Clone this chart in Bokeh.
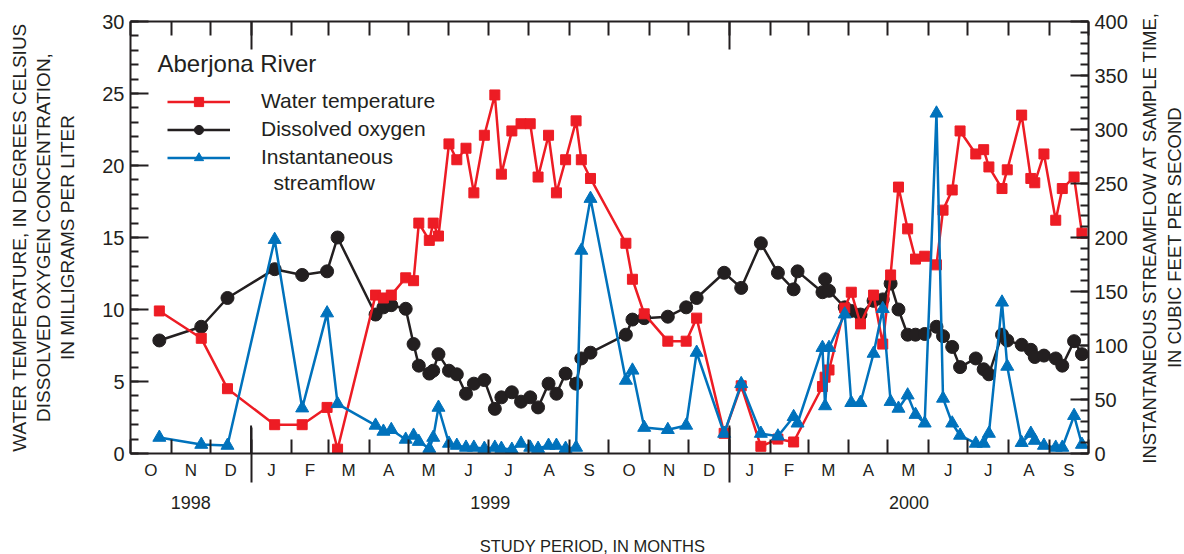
import math
import pandas as pd
from bokeh.plotting import figure
from bokeh.layouts import row, column
from bokeh.models import (Range1d, LinearAxis, FixedTicker, SingleIntervalTicker,
                          Label, Legend, LegendItem)
from bokeh.embed import file_html
from bokeh.resources import INLINE

# ---------------- data ----------------
sample_dates = [
    "1998-10-23", "1998-11-24", "1998-12-14", "1999-01-19", "1999-02-09", "1999-02-28",
    "1999-03-08", "1999-04-06", "1999-04-12", "1999-04-18", "1999-04-29", "1999-05-05",
    "1999-05-09", "1999-05-17", "1999-05-20", "1999-05-24", "1999-06-01", "1999-06-07",
    "1999-06-14", "1999-06-20", "1999-06-28", "1999-07-06", "1999-07-11", "1999-07-19",
    "1999-07-26", "1999-08-02", "1999-08-08", "1999-08-16", "1999-08-22", "1999-08-29",
    "1999-09-06", "1999-09-10", "1999-09-17", "1999-10-14", "1999-10-19", "1999-10-28",
    "1999-11-15", "1999-11-29", "1999-12-07", "1999-12-28", "2000-01-10", "2000-01-25",
    "2000-02-07", "2000-02-19", "2000-02-22", "2000-03-12", "2000-03-14", "2000-03-17",
    "2000-03-29", "2000-04-03", "2000-04-10", "2000-04-20", "2000-04-27", "2000-05-03",
    "2000-05-09", "2000-05-16", "2000-05-22", "2000-05-29", "2000-06-07", "2000-06-12",
    "2000-06-19", "2000-06-25", "2000-07-07", "2000-07-13", "2000-07-17", "2000-07-27",
    "2000-07-31", "2000-08-11", "2000-08-18", "2000-08-21", "2000-08-28", "2000-09-06",
    "2000-09-11", "2000-09-20", "2000-09-26",
]
water_temperature = [
    9.9, 8.0, 4.5, 2.0, 2.0, 3.2,
    0.3, 11.0, 10.8, 11.0, 12.2, 12.0,
    16.0, 14.8, 16.0, 15.1, 21.5, 20.4,
    21.2, 18.1, 22.1, 24.9, 19.4, 22.4,
    22.9, 22.9, 19.2, 22.1, 18.1, 20.4,
    23.1, 20.4, 19.1, 14.6, 12.1, 9.7,
    7.8, 7.8, 9.4, 1.4, 4.7, 0.5,
    1.0, 0.8, None, 4.65, 5.3, 5.8,
    10.1, 11.2, 9.0, 11.0, 7.6, 12.4,
    18.5, 15.6, 13.5, 13.7, 13.1, 16.9,
    18.3, 22.4, 20.8, 21.1, 19.9, 18.4,
    19.7, 23.5, 19.1, 18.8, 20.8, 16.2,
    18.4, 19.2, 15.3,
]
dissolved_oxygen = [
    7.85, 8.8, 10.8, 12.8, 12.4, 12.65,
    15.0, 9.65, 10.15, 10.3, 10.05, 7.6,
    6.1, 5.55, 5.75, 6.9, 5.75, 5.5,
    4.15, 4.85, 5.1, 3.1, 3.9, 4.25,
    3.6, 3.9, 3.2, 4.85, 4.15, 5.55,
    4.85, 6.6, 7.0, 8.25, 9.3, 9.4,
    9.5, 10.15, 10.8, 12.55, 11.5, 14.6,
    12.55, 11.4, 12.65, 11.2, 12.1, 11.3,
    10.15, 9.9, 9.65, 10.6, 10.7, 11.8,
    10.0, 8.25, 8.25, 8.3, 8.8, 8.15,
    7.4, 6.0, 6.6, 5.85, 5.5, 8.25,
    7.85, 7.55, 7.2, 6.7, 6.8, 6.6,
    6.1, 7.8, 6.9,
]
streamflow = [
    14.8, 8.3, 7.4, 198, 42, 130,
    46, 26, 20.4, 22, 13, 16.7,
    11, 4.6, 14.8, 42.6, 9.3, 7.4,
    5.6, 5.6, 4.6, 5.6, 4.6, 3.7,
    9.3, 5.6, 4.6, 7.4, 7.4, 4.6,
    5.6, 188, 236, 67.6, 77, 24,
    22, 26, 93.5, 18.5, 64.5, 18.5,
    16, 34, 28, 98, 44, 98,
    129, 47, 47, 92.6, 134, 48,
    41.7, 54, 36, 28, 315, 51,
    28, 16.7, 9.3, 9.3, 18.5, 140,
    80.6, 10, 18.5, 12, 7.4, 5.6,
    5.6, 35, 8.3,
]
month_labels = ["O", "N", "D", "J", "F", "M", "A", "M", "J", "J", "A", "S",
                "O", "N", "D", "J", "F", "M", "A", "M", "J", "J", "A", "S"]
year_labels = ["1998", "1999", "2000"]
period_start = "1998-10-01"
period_end = "2000-10-01"

# ---------------- derived positions (days since start of study) ----------------
t0 = pd.Timestamp(period_start)
def day(d):
    return (pd.Timestamp(d) - t0).days

xs = [day(d) for d in sample_dates]
temp_x = [x for x, v in zip(xs, water_temperature) if v is not None]
temp_y = [v for v in water_temperature if v is not None]
month_starts = pd.date_range(period_start, period_end, freq="MS")
bounds = [(m - t0).days for m in month_starts]
centers = [(a + b) / 2 for a, b in zip(bounds[:-1], bounds[1:])]
year_bounds = [day("1999-01-01"), day("2000-01-01")]
yb = [0] + year_bounds + [day(period_end)]
year_centers = [(a + b) / 2 for a, b in zip(yb[:-1], yb[1:])]

INK = "#231F20"
RED = "#ED1C24"
BLUE = "#0072BC"
FONT = "Liberation Sans"

W_TOTAL, W_MAIN, H_TOTAL, H_MAIN = 1184, 1134, 554, 530
W_SIDE, H_FOOT = W_TOTAL - W_MAIN, H_TOTAL - H_MAIN
BORDER_L, BORDER_T, BORDER_B = 130, 21, H_MAIN - 453
FRAME_H = H_MAIN - BORDER_T - BORDER_B
T_MAX = 30

def no_title(fig):
    try:
        fig.title_location = None
    except Exception:
        pass
    try:
        fig.title = None
    except Exception:
        pass

p = figure(width=W_MAIN, height=H_MAIN, output_backend="svg", toolbar_location=None,
           x_range=Range1d(0, day(period_end)), y_range=Range1d(0, T_MAX),
           x_axis_type=None, y_axis_type=None,
           min_border_left=BORDER_L, min_border_right=W_MAIN - 1088,
           min_border_top=BORDER_T, min_border_bottom=BORDER_B)
no_title(p)
p.extra_y_ranges = {"flow": Range1d(0, 400)}
p.outline_line_color = None
p.background_fill_color = "white"
p.border_fill_color = "white"

def style(ax, size="20px"):
    ax.axis_line_color = INK
    ax.axis_line_width = 2
    ax.major_tick_line_color = INK
    ax.major_tick_line_width = 2
    ax.minor_tick_line_color = INK
    ax.minor_tick_line_width = 2
    ax.major_label_text_font = FONT
    ax.major_label_text_color = INK
    ax.major_label_text_font_size = size
    ax.axis_label_text_font = FONT
    ax.axis_label_text_color = INK
    ax.axis_label_text_font_style = "normal"

# bottom: month letters at month centres, month-boundary ticks pointing inward
month_axis = LinearAxis(ticker=FixedTicker(ticks=centers, minor_ticks=bounds),
                        major_tick_in=0, major_tick_out=0, minor_tick_in=14, minor_tick_out=0,
                        major_label_standoff=7)
style(month_axis, "17px")
month_axis.major_label_overrides = {c: m for c, m in zip(centers, month_labels)}
p.add_layout(month_axis, "below")

# second bottom axis: years and the year-boundary lines below the frame
year_axis = LinearAxis(ticker=FixedTicker(ticks=year_centers, minor_ticks=year_bounds),
                       major_tick_in=0, major_tick_out=0, minor_tick_in=55, minor_tick_out=0,
                       major_label_standoff=13)
style(year_axis, "18px")
year_axis.axis_line_color = None
year_axis.major_label_overrides = {c: y for c, y in zip(year_centers, year_labels)}
p.add_layout(year_axis, "below")

# top frame edge with inward ticks
top = LinearAxis(ticker=FixedTicker(ticks=year_bounds, minor_ticks=bounds),
                 major_tick_in=28, major_tick_out=0, minor_tick_in=14, minor_tick_out=0)
style(top, "1px")
top.major_label_overrides = {v: "" for v in year_bounds}
p.add_layout(top, "above")

left = LinearAxis(ticker=SingleIntervalTicker(interval=5, num_minor_ticks=5),
                  major_tick_in=18, major_tick_out=0, minor_tick_in=8, minor_tick_out=0,
                  major_label_standoff=6,
                  axis_label="WATER TEMPERATURE, IN DEGREES CELSIUS\nDISSOLVED OXYGEN CONCENTRATION,\nIN MILLIGRAMS PER LITER",
                  axis_label_standoff=21)
style(left)
left.axis_label_text_font_size = "19px"
left.axis_label_text_line_height = 1.15
p.add_layout(left, "left")

right = LinearAxis(y_range_name="flow", ticker=SingleIntervalTicker(interval=50, num_minor_ticks=5),
                   major_tick_in=18, major_tick_out=0, minor_tick_in=8, minor_tick_out=0,
                   major_label_standoff=6)
style(right)
p.add_layout(right, "right")

# inward part of the year-boundary lines on the bottom edge (28 px long)
yr_tick = 28 * T_MAX / FRAME_H
p.segment(x0=year_bounds, y0=[0] * len(year_bounds), x1=year_bounds,
          y1=[yr_tick] * len(year_bounds), line_color=INK, line_width=2)

# ---------------- series ----------------
r_do_l = p.line(xs, dissolved_oxygen, line_color=INK, line_width=2.5)
r_do_m = p.scatter(xs, dissolved_oxygen, marker="circle", size=13, fill_color=INK, line_color=INK)
r_t_l = p.line(temp_x, temp_y, line_color=RED, line_width=2.5)
r_t_m = p.scatter(temp_x, temp_y, marker="square", size=10, fill_color=RED, line_color=RED)
r_q_l = p.line(xs, streamflow, line_color=BLUE, line_width=2.5, y_range_name="flow")
r_q_m = p.scatter(xs, streamflow, marker="triangle", size=13, fill_color=BLUE, line_color=BLUE,
                  y_range_name="flow")

legend = Legend(items=[
    LegendItem(label="Water temperature", renderers=[r_t_l, r_t_m]),
    LegendItem(label="Dissolved oxygen", renderers=[r_do_l, r_do_m]),
    LegendItem(label="Instantaneous", renderers=[r_q_l, r_q_m]),
], location=(37, 284), padding=0, spacing=4, glyph_width=63, glyph_height=23,
   label_height=23, label_standoff=31, border_line_color=None, background_fill_alpha=0,
   label_text_font=FONT, label_text_font_size="21px", label_text_color=INK)
p.add_layout(legend, "center")

def lbl(fig, text, x, y, size, align="left", angle=0.0):
    fig.add_layout(Label(x=x, y=y, x_units="screen", y_units="screen", text=text,
                         text_align=align, text_baseline="middle", angle=angle,
                         text_font=FONT, text_font_size=size, text_color=INK))

lbl(p, "Aberjona River", 27, 390, "24px")
lbl(p, "streamflow", 143, 271, "21px")

def strip(w, h):
    f = figure(width=w, height=h, output_backend="svg", toolbar_location=None,
               x_axis_type=None, y_axis_type=None, x_range=Range1d(0, w),
               y_range=Range1d(0, h), min_border=0)
    no_title(f)
    f.outline_line_color = None
    f.background_fill_color = "white"
    f.border_fill_color = "white"
    return f

# bottom title strip (under the main plot)
foot = strip(W_MAIN, H_FOOT)
lbl(foot, "STUDY PERIOD, IN MONTHS", 592, H_FOOT - 15, "16.5px", align="center")

# right-hand title strip over the full height (reads bottom to top)
side = strip(W_SIDE, H_TOTAL)
right_titles = ["INSTANTANEOUS STREAMFLOW AT SAMPLE TIME,", "IN CUBIC FEET PER SECOND"]
for i, t in enumerate(right_titles):
    lbl(side, t, 1149 - W_MAIN + 24.5 * i, H_TOTAL - 237, "18.5px", align="center",
        angle=math.pi / 2)

layout = row(column(row(p), foot), side)
open("out.html", "w").write(file_html(layout, INLINE))
